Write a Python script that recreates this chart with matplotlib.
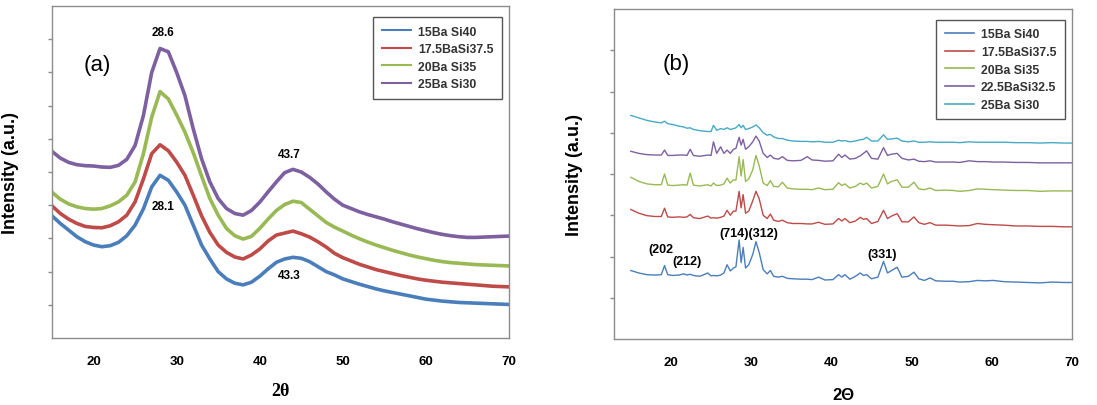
import matplotlib
matplotlib.use("Agg")
import matplotlib.pyplot as plt

# ---------------- Panel (a) data ----------------
x_a = list(range(15, 71))
blue_a = [3.68, 3.45, 3.25, 3.05, 2.90, 2.80, 2.75, 2.78, 2.88, 3.08, 3.40, 3.89, 4.55, 4.90, 4.75, 4.40,
          4.00, 3.40, 2.80, 2.38, 2.00, 1.78, 1.65, 1.60, 1.68, 1.86, 2.08, 2.28, 2.38, 2.43, 2.40, 2.30,
          2.15, 2.00, 1.90, 1.78, 1.70, 1.62, 1.55, 1.48, 1.42, 1.37, 1.32, 1.27, 1.22, 1.17, 1.14, 1.11,
          1.09, 1.07, 1.06, 1.05, 1.04, 1.03, 1.02, 1.01]
red_a = [3.98, 3.75, 3.58, 3.45, 3.36, 3.33, 3.32, 3.38, 3.50, 3.70, 4.10, 4.79, 5.55, 5.82, 5.64, 5.30,
         4.90, 4.30, 3.68, 3.18, 2.80, 2.58, 2.44, 2.38, 2.50, 2.68, 2.92, 3.10, 3.16, 3.22, 3.14, 3.04,
         2.90, 2.74, 2.55, 2.42, 2.32, 2.22, 2.14, 2.06, 2.00, 1.94, 1.88, 1.83, 1.78, 1.74, 1.71, 1.68,
         1.66, 1.64, 1.62, 1.60, 1.58, 1.56, 1.55, 1.54]
green_a = [4.39, 4.18, 4.04, 3.95, 3.90, 3.88, 3.90, 3.98, 4.10, 4.30, 4.70, 5.55, 6.65, 7.42, 7.20, 6.72,
           6.20, 5.58, 4.88, 4.20, 3.70, 3.30, 3.08, 2.98, 3.06, 3.30, 3.58, 3.84, 4.02, 4.12, 4.08, 3.88,
           3.68, 3.48, 3.34, 3.22, 3.10, 2.99, 2.89, 2.80, 2.72, 2.64, 2.57, 2.50, 2.44, 2.39, 2.34, 2.30,
           2.27, 2.25, 2.23, 2.21, 2.20, 2.19, 2.18, 2.17]
purple_a = [5.62, 5.42, 5.29, 5.22, 5.19, 5.18, 5.15, 5.14, 5.20, 5.38, 5.80, 6.70, 8.00, 8.72, 8.62, 8.00,
            7.30, 6.30, 5.40, 4.70, 4.20, 3.90, 3.75, 3.70, 3.84, 4.09, 4.40, 4.70, 4.98, 5.08, 5.00, 4.84,
            4.64, 4.40, 4.18, 4.00, 3.90, 3.80, 3.72, 3.65, 3.58, 3.50, 3.43, 3.36, 3.29, 3.23, 3.17, 3.12,
            3.08, 3.05, 3.03, 3.03, 3.04, 3.05, 3.06, 3.07]
labels_a = ["15Ba Si40", "17.5BaSi37.5", "20Ba Si35", "25Ba Si30"]

# ---------------- Panel (b) data ----------------
x_b = [15, 16, 17, 18,
       18.8, 19.2, 19.6,
       20.2, 21, 21.6, 22.0, 22.4, 22.8,
       23.6, 24.6, 25.0, 25.3, 25.7,
       26.2, 26.6, 27.0, 27.4, 27.8,
       28.1, 28.5, 28.75, 29.0, 29.3, 29.7,
       30.2, 30.6, 31.0, 31.5, 32.0, 32.4, 32.8,
       33.4, 33.9, 34.5, 35.2, 36.2, 37.0, 37.6,
       38.4, 39.2, 40.2, 40.9, 41.3, 41.7, 42.3,
       43.0, 43.6, 44.0, 44.4, 45.0, 45.8,
       46.5, 47.0, 47.5, 48.2, 48.8, 49.6,
       50.3, 50.9, 51.6, 52.3, 53.0, 54.2,
       55.2, 56.0, 57.2, 58.2, 59.2, 60.2,
       61.5, 63.0, 64.5, 66.0, 67.5, 69.0, 70.0]
s15_b = [1.66, 1.60, 1.56, 1.55,
         1.56, 1.78, 1.56,
         1.54, 1.55, 1.58, 1.55, 1.57, 1.54,
         1.52, 1.60, 1.53, 1.54, 1.53,
         1.55, 1.60, 1.80, 1.65, 1.72,
         1.75, 2.40, 1.85, 2.22, 1.72, 1.80,
         2.05, 2.36, 2.10, 1.68, 1.58, 1.66, 1.52,
         1.50, 1.52, 1.47, 1.46, 1.45, 1.45, 1.44,
         1.50, 1.43, 1.44, 1.56, 1.50, 1.56, 1.45,
         1.52, 1.60, 1.54, 1.56, 1.46, 1.50,
         1.88, 1.60, 1.66, 1.74, 1.50, 1.52,
         1.62, 1.46, 1.42, 1.48, 1.41, 1.40,
         1.40, 1.38, 1.39, 1.42, 1.41, 1.42,
         1.39, 1.38, 1.37, 1.36, 1.38, 1.37, 1.37]
s175_b = [3.14, 3.05, 2.99, 2.97,
          2.97, 3.17, 2.96,
          2.95, 2.96, 2.95, 2.96, 3.02, 2.94,
          2.92, 2.98, 2.93, 2.94, 2.93,
          2.95, 2.98, 3.12, 3.00, 3.10,
          3.10, 3.58, 3.18, 3.50, 3.05, 3.10,
          3.35, 3.58, 3.40, 3.00, 2.92, 3.03, 2.88,
          2.85, 2.88, 2.82, 2.80, 2.80, 2.79, 2.79,
          2.83, 2.78, 2.79, 2.92, 2.86, 2.92, 2.82,
          2.86, 2.95, 2.90, 2.92, 2.80, 2.85,
          3.12, 2.92, 2.98, 3.04, 2.84, 2.84,
          2.96, 2.82, 2.78, 2.82, 2.76, 2.76,
          2.75, 2.74, 2.75, 2.80, 2.78, 2.77,
          2.76, 2.74, 2.74, 2.73, 2.73, 2.72, 2.72]
s20_b = [3.92, 3.82, 3.76, 3.74,
         3.74, 4.00, 3.73,
         3.72, 3.73, 3.74, 3.73, 4.02, 3.73,
         3.71, 3.74, 3.71, 3.78, 3.72,
         3.73, 3.76, 3.90, 3.78, 3.86,
         3.85, 4.42, 3.95, 4.35, 3.82, 3.88,
         4.10, 4.45, 4.20, 3.78, 3.72, 3.84, 3.70,
         3.69, 3.80, 3.66, 3.64, 3.63, 3.63, 3.62,
         3.66, 3.62, 3.63, 3.79, 3.72, 3.76, 3.66,
         3.70, 3.78, 3.74, 3.78, 3.66, 3.70,
         4.00, 3.76, 3.82, 3.86, 3.68, 3.68,
         3.80, 3.64, 3.62, 3.66, 3.60, 3.61,
         3.60, 3.58, 3.60, 3.64, 3.63, 3.62,
         3.61, 3.60, 3.60, 3.58, 3.59, 3.59, 3.59]
s225_b = [4.55, 4.50, 4.47, 4.46,
          4.46, 4.58, 4.45,
          4.45, 4.46, 4.46, 4.45, 4.60, 4.45,
          4.43, 4.46, 4.45, 4.78, 4.50,
          4.66, 4.50, 4.58, 4.50, 4.60,
          4.62, 4.89, 4.70, 4.84, 4.60, 4.66,
          4.78, 4.92, 4.80, 4.50, 4.40, 4.46, 4.38,
          4.36, 4.42, 4.33, 4.32, 4.33, 4.42, 4.34,
          4.33, 4.31, 4.32, 4.48, 4.40, 4.46, 4.36,
          4.38, 4.44, 4.50, 4.56, 4.38, 4.36,
          4.64, 4.45, 4.48, 4.50, 4.38, 4.34,
          4.36, 4.31, 4.30, 4.32, 4.29, 4.29,
          4.29, 4.28, 4.32, 4.30, 4.30, 4.29,
          4.29, 4.28, 4.28, 4.27, 4.27, 4.27, 4.27]
s25_b = [5.42, 5.36, 5.30, 5.26,
         5.24, 5.28, 5.22,
         5.20, 5.16, 5.14, 5.11, 5.12, 5.08,
         5.05, 5.03, 5.03, 5.18, 5.06,
         5.10, 5.08, 5.12, 5.08, 5.10,
         5.12, 5.20, 5.12, 5.18, 5.08, 5.10,
         5.14, 5.19, 5.12, 5.00, 4.94, 4.96, 4.90,
         4.86, 4.86, 4.82, 4.80, 4.79, 4.79, 4.78,
         4.79, 4.77, 4.77, 4.82, 4.80, 4.81, 4.78,
         4.80, 4.83, 4.84, 4.89, 4.80, 4.80,
         4.95, 4.84, 4.85, 4.87, 4.80, 4.78,
         4.80, 4.77, 4.77, 4.78, 4.77, 4.77,
         4.77, 4.76, 4.78, 4.77, 4.77, 4.77,
         4.77, 4.76, 4.76, 4.75, 4.76, 4.75, 4.75]
labels_b = ["15Ba Si40", "17.5BaSi37.5", "20Ba Si35", "22.5BaSi32.5", "25Ba Si30"]

xticks = [20, 30, 40, 50, 60, 70]

c_blue, c_red, c_green, c_purple, c_cyan = "#4A7EBB", "#BE4B48", "#98B954", "#7D60A0", "#46AAC5"
spine_c = "#8C8C8C"

fig = plt.figure(figsize=(10.97, 4.06), dpi=100)
ax1 = fig.add_axes([52/1097, (406-339)/406, 457/1097, 332/406])
ax2 = fig.add_axes([614/1097, (406-340)/406, 458/1097, 330/406])

sans = "Liberation Sans"

def style(ax, xlim, ylim, nyt):
    ax.set_xlim(*xlim)
    ax.set_ylim(*ylim)
    ax.set_xticks(xticks)
    ax.set_yticks(list(range(1, nyt)))
    ax.set_yticklabels([])
    for s in ax.spines.values():
        s.set_color(spine_c)
        s.set_linewidth(1.0)
    ax.tick_params(axis="y", direction="out", length=3, color=spine_c, width=1)
    ax.tick_params(axis="x", length=0, pad=12)
    for t in ax.get_xticklabels():
        t.set_fontweight("bold")
        t.set_fontsize(9.5)
        t.set_family(sans)

leg_kw = dict(loc="upper right", bbox_to_anchor=(0.985, 0.967), borderaxespad=0, fancybox=False,
              framealpha=1, edgecolor="#555555", prop={"family": sans, "weight": "bold", "size": 8.8},
              handlelength=2.4, handletextpad=0.55, labelspacing=0.46, borderpad=0.7)

# Panel (a)
for y, c, l in zip([blue_a, red_a, green_a, purple_a], [c_blue, c_red, c_green, c_purple], labels_a):
    ax1.plot(x_a, y, color=c, lw=2.6, label=l)
style(ax1, (15, 70), (0, 10), 10)
ax1.set_ylabel("Intensity (a.u.)", fontsize=13, fontweight="bold", family=sans)
ax1.yaxis.set_label_coords(-33/457, 0.5)
ax1.set_xlabel("2θ", fontsize=13, fontweight="bold", family="Liberation Serif")
ax1.xaxis.set_label_coords(0.5, -0.133)
leg1 = ax1.legend(**leg_kw)
leg1.get_frame().set_linewidth(1.0)
for h in leg1.get_lines():
    h.set_linewidth(1.5)
for t in leg1.get_texts():
    t.set_color("#333333")
ann_kw = dict(fontsize=8.5, fontweight="bold", family=sans, ha="center", va="center")
ax1.text(28.4, 9.22, "28.6", **ann_kw)
ax1.text(28.4, 3.98, "28.1", **ann_kw)
ax1.text(43.6, 5.54, "43.7", **ann_kw)
ax1.text(43.6, 1.90, "43.3", **ann_kw)
ax1.text(20.5, 8.24, "(a)", fontsize=16, family=sans, ha="center", va="center")

# Panel (b)
for y, c, l in zip([s15_b, s175_b, s20_b, s225_b, s25_b], [c_blue, c_red, c_green, c_purple, c_cyan], labels_b):
    ax2.plot(x_b, y, color=c, lw=1.0, label=l)
style(ax2, (12.9, 70), (0, 8), 8)
ax2.set_ylabel("Intensity (a.u.)", fontsize=13, fontweight="bold", family=sans)
ax2.yaxis.set_label_coords(-31/458, 0.5)
ax2.set_xlabel("2Θ", fontsize=12, fontweight="bold", family=sans)
ax2.xaxis.set_label_coords(0.5, -0.145)
leg2 = ax2.legend(**leg_kw)
leg2.get_frame().set_linewidth(1.0)
for h in leg2.get_lines():
    h.set_linewidth(1.2)
for t in leg2.get_texts():
    t.set_color("#333333")
annb_kw = dict(fontsize=9, fontweight="bold", family=sans, ha="center", va="center")
ax2.text(18.8, 2.18, "(202", **annb_kw)
ax2.text(22.0, 1.88, "(212)", **annb_kw)
ax2.text(29.7, 2.56, "(714)(312)", **annb_kw)
ax2.text(46.3, 2.06, "(331)", **annb_kw)
ax2.text(20.6, 6.67, "(b)", fontsize=16, family=sans, ha="center", va="center")

fig.savefig("out.png", dpi=100)
